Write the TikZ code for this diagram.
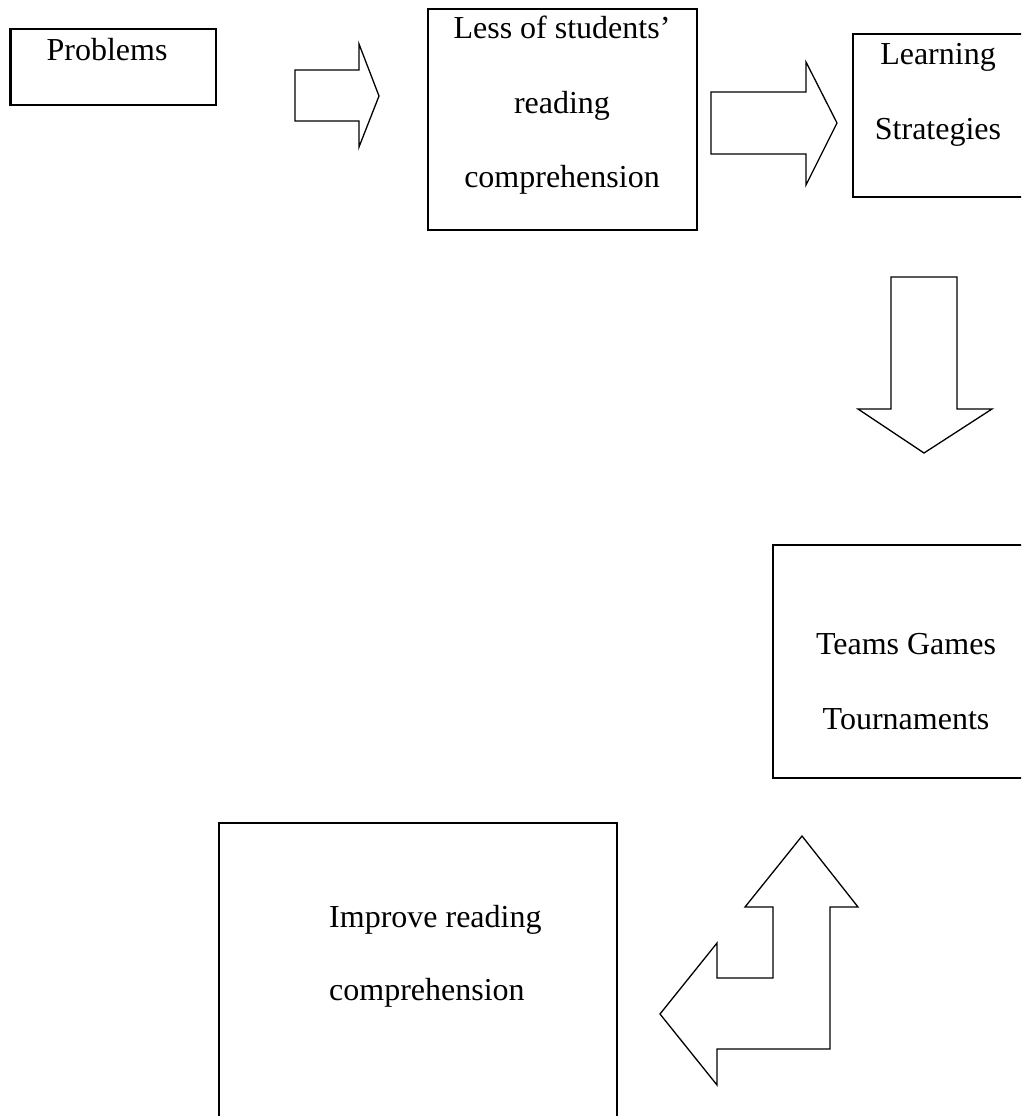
\documentclass[tikz,border=0pt]{standalone}
\usepackage{fontspec}
\setmainfont{Liberation Serif}

\tikzset{
  box/.style={draw, line width=2.2pt, inner sep=0pt},
  txt/.style={inner sep=0pt, font=\fontsize{32}{38}\selectfont},
  blockarrow/.style={draw, line width=1.3pt, line join=miter}
}

\begin{document}
\begin{tikzpicture}[x=1pt, y=-1pt]
  \useasboundingbox (0,0) rectangle (1021,1116);
  \clip (0,0) rectangle (1021,1116);
  \fill[white] (0,0) rectangle (1021,1116);
  % Boxes (left/top/right/bottom)
  \foreach \nm/\xa/\ya/\xb/\yb in {
    problems/10.5/29/216/105,
    less/428/9/697/230,
    strategies/853/34/1025/197,
    tgt/773/545/1040/778,
    improve/219/823/617/1140
  }{
    \node[box, minimum width={\xb-\xa}, minimum height={\yb-\ya}]
      (\nm) at ({(\xa+\xb)/2},{(\ya+\yb)/2}) {};
  }
  % Text lines, on their baselines
  \foreach \nm/\x/\y/\anc/\txt in {
    probtxt/107/60/base/Problems,
    lessa/562/39/base/Less of students',
    lessb/562/113/base/reading,
    lessc/562/187/base/comprehension,
    learna/938/65/base/Learning,
    learnb/938/139/base/Strategies,
    tgta/906/654/base/Teams Games,
    tgtb/906/729/base/Tournaments,
    impa/329/927/base west/Improve reading,
    impb/329/1000/base west/comprehension
  }{
    \node[txt, anchor=\anc] (\nm) at (\x,\y) {\txt};
  }
  % Block arrows
  \draw[blockarrow] (295,70) -- (359,70) -- (359,44) -- (379,96)
    -- (359,147) -- (359,121) -- (295,121) -- cycle;
  \draw[blockarrow] (711,92) -- (806,92) -- (806,62) -- (837,123)
    -- (806,185) -- (806,154) -- (711,154) -- cycle;
  \draw[blockarrow] (891,277) -- (957,277) -- (957,409) -- (992,409)
    -- (924,453) -- (858,409) -- (891,409) -- cycle;
  % Bent arrow, up and left
  \draw[blockarrow] (802,836) -- (858,907) -- (830,907) -- (830,1049)
    -- (717,1049) -- (717,1085) -- (660,1014) -- (717,943) -- (717,978)
    -- (773,978) -- (773,907) -- (745,907) -- cycle;
\end{tikzpicture}
\end{document}
